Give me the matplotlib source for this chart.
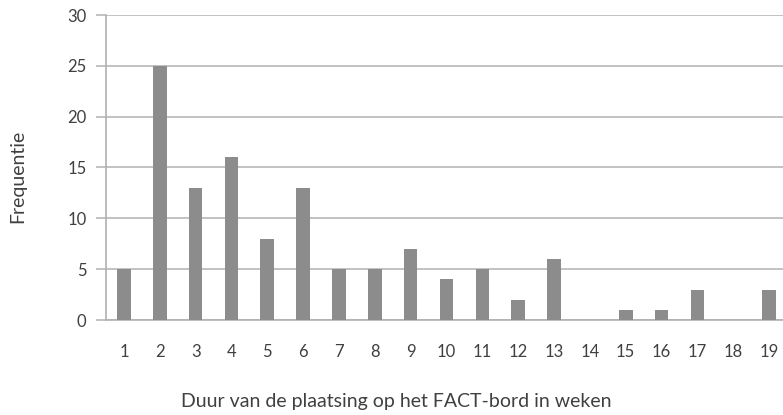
import numpy as np
import matplotlib
matplotlib.use("Agg")
from matplotlib import pyplot as plt

# data
weeks = [str(i) for i in range(1, 20)]
frequency = [5, 25, 13, 16, 8, 13, 5, 5, 7, 4, 5, 2, 6, 0, 1, 1, 3, 0, 3]

plt.rcParams['font.family'] = ['Lato', 'DejaVu Sans']

fig = plt.figure(figsize=(7.83, 4.15), dpi=100)
ax = fig.add_axes([106 / 783, 1 - 320 / 415, 681 / 783, 305 / 415])

x = np.arange(1, len(weeks) + 1)
ax.bar(x, frequency, width=0.38, color='#8c8c8c', zorder=3)

ax.set_xlim(0.5, 19.5)
ax.set_ylim(0, 30)
ax.set_yticks(range(0, 31, 5))
ax.set_xticks(x)
ax.set_xticklabels(weeks)

ax.yaxis.grid(True, color='#b8b8b8', linewidth=1.2, zorder=0)
for s in ['top', 'right']:
    ax.spines[s].set_visible(False)
ax.spines['left'].set_color('#b0b0b0')
ax.spines['bottom'].set_color('#b0b0b0')
ax.spines['left'].set_linewidth(1.2)
ax.spines['bottom'].set_linewidth(1.2)

ax.tick_params(axis='y', length=7, width=1.2, color='#b8b8b8', pad=7,
               labelsize=12, labelcolor='#404040')
ax.tick_params(axis='x', length=0, pad=17, labelsize=12, labelcolor='#404040')

fig.text(18 / 783, 1 - 176 / 415, 'Frequentie', rotation=90, ha='center',
         va='center', fontsize=14, color='#404040')
fig.text(396 / 783, 1 - 401 / 415, 'Duur van de plaatsing op het FACT-bord in weken',
         ha='center', va='center', fontsize=14, color='#404040')

fig.savefig('out.png', dpi=100)
